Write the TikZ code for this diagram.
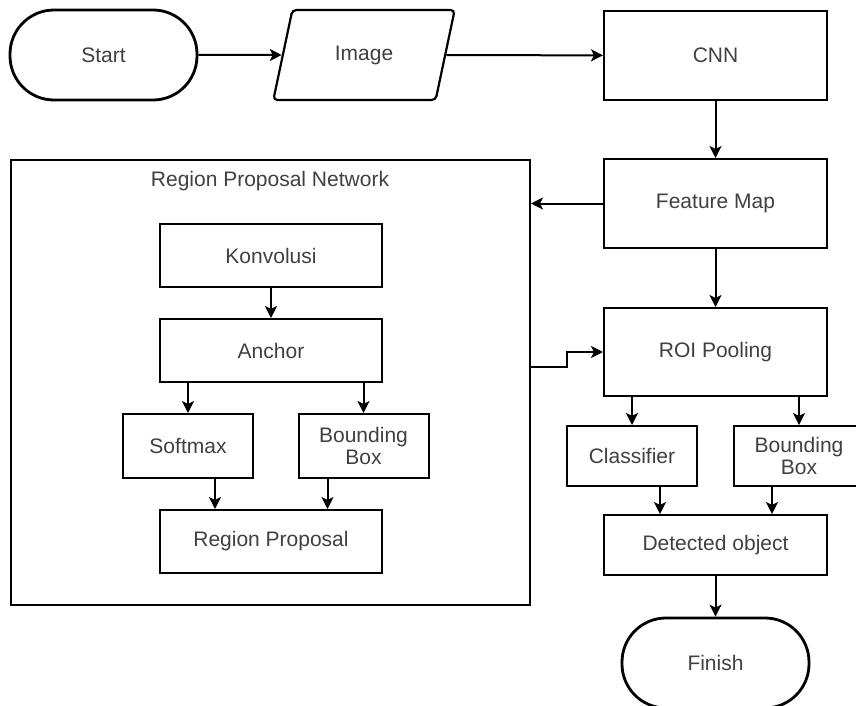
\documentclass[tikz,border=0pt]{standalone}
\usepackage{fontspec}
\setmainfont{Liberation Sans}
\usetikzlibrary{positioning,shapes.geometric,arrows.meta}

\begin{document}
\begin{tikzpicture}[x=1pt,y=-1pt]
\tikzstyle{every node}=[font=\fontsize{21}{22}\selectfont,text=black!75]
\tikzstyle{box}=[draw,line width=2pt,rectangle,align=center,inner sep=0pt]
\tikzstyle{term}=[draw,line width=2.8pt,rectangle,rounded corners=44pt,inner sep=0pt,minimum width=187pt,minimum height=90pt]
\tikzstyle{arr}=[line width=2pt,-{Stealth[length=12pt,width=12pt,inset=3pt]}]
\useasboundingbox (0,0) rectangle (856,706);

%top row
\node[term] (start) at (103.5,55) {Start};
\node[draw,line width=2.2pt,trapezium,trapezium left angle=67.6,trapezium right angle=112.4,trapezium stretches=true,rounded corners=4pt,minimum width=182pt,minimum height=90pt,inner sep=0pt] (img) at (364,55) {\raisebox{-2pt}{Image}};
\node[box,minimum width=223pt,minimum height=89pt] (cnn) at (715.5,55.5) {CNN};
\node[box,minimum width=223pt,minimum height=89pt] (fm) at (715.5,203.5) {Feature Map};

%region proposal network
\node[box,minimum width=519pt,minimum height=445pt] (rpn) at (270.5,382.5) {};
\node (rpntitle) at (270,181) {Region Proposal Network};
\node[box,minimum width=222pt,minimum height=63pt] (konv) at (271,255.5) {Konvolusi};
\node[box,minimum width=222pt,minimum height=63pt] (anchor) at (271,350.5) {Anchor};
\node[box,minimum width=130pt,minimum height=64pt] (soft) at (188,446) {Softmax};
\node[box,minimum width=130pt,minimum height=64pt] (bb1) at (363.5,446) {Bounding\\Box};
\node[box,minimum width=222pt,minimum height=63pt] (rp) at (271,541.5) {Region Proposal};

%right column
\node[box,minimum width=223pt,minimum height=88pt] (roi) at (715.5,352) {ROI Pooling};
\node[box,minimum width=130pt,minimum height=60pt] (cls) at (632,456) {Classifier};
\node[box,minimum width=130pt,minimum height=60pt] (bb2) at (799,456) {Bounding\\Box};
\node[box,minimum width=223pt,minimum height=60pt] (det) at (715.5,545) {Detected object};
\node[term] (fin) at (715.5,663) {Finish};

%arrows
\draw[arr] (start) -- (img);
\draw[arr] (img) -- (cnn);
\draw[arr] (cnn) -- (fm);
\draw[arr] (fm.west) -- (fm.west -| rpn.east);
\draw[arr] (fm) -- (roi);
\coordinate (rpnout) at (530,367);
\draw[arr] (rpnout) -- ++(37,0) |- (roi.west);
\draw[arr] (konv) -- (anchor);
\draw[arr] (anchor.south -| soft.north) -- (soft.north);
\draw[arr] (anchor.south -| bb1.north) -- (bb1.north);
\draw[arr] ([xshift=27pt]soft.south) -- ([xshift=27pt]soft.south |- rp.north);
\draw[arr] ([xshift=-36pt]bb1.south) -- ([xshift=-36pt]bb1.south |- rp.north);
\draw[arr] (roi.south -| cls.north) -- (cls.north);
\draw[arr] (roi.south -| bb2.north) -- (bb2.north);
\draw[arr] ([xshift=28pt]cls.south) -- ([xshift=28pt]cls.south |- det.north);
\draw[arr] ([xshift=-27pt]bb2.south) -- ([xshift=-27pt]bb2.south |- det.north);
\draw[arr] (det) -- (fin);
\end{tikzpicture}
\end{document}
